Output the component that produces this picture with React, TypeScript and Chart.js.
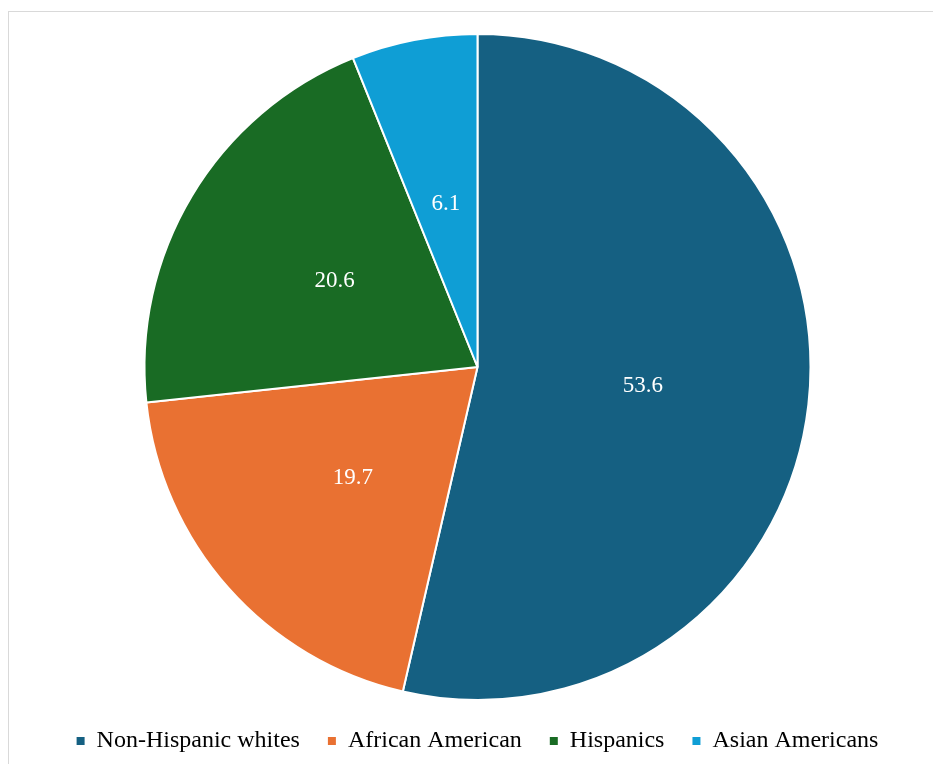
import React, { useEffect, useRef } from "react";
import { Chart, registerables } from "chart.js";

Chart.register(...registerables);

const categories = ["Non-Hispanic whites", "African American", "Hispanics", "Asian Americans"];
const values = [53.6, 19.7, 20.6, 6.1];
const sliceColors = ["#156082", "#E97132", "#196B24", "#0F9ED5"];

const FONT = "'Liberation Serif', 'Times New Roman', serif";

const labelPlugin = {
  id: "sliceLabels",
  afterDatasetsDraw(chart: any) {
    const ctx = chart.ctx;
    const meta = chart.getDatasetMeta(0);
    const data = chart.data.datasets[0].data;
    ctx.save();
    ctx.font = `23px ${FONT}`;
    ctx.fillStyle = "#ffffff";
    ctx.textAlign = "center";
    ctx.textBaseline = "middle";
    meta.data.forEach((arc: any, i: number) => {
      const p = arc.tooltipPosition();
      ctx.fillText(String(data[i]), p.x, p.y);
    });
    ctx.restore();
  },
};

export default function App() {
  const ref = useRef<HTMLCanvasElement | null>(null);

  useEffect(() => {
    if (!ref.current) return;
    const chart = new Chart(ref.current, {
      type: "pie",
      data: {
        labels: categories,
        datasets: [
          {
            data: values,
            backgroundColor: sliceColors,
            borderColor: "#ffffff",
            borderWidth: 2,
          },
        ],
      },
      options: {
        responsive: false,
        animation: false,
        layout: { padding: { top: 33, bottom: 1, left: 0, right: 0 } },
        plugins: {
          tooltip: { enabled: false },
          legend: {
            position: "bottom",
            labels: {
              boxWidth: 8,
              boxHeight: 8,
              padding: 28,
              color: "#000000",
              font: { family: FONT, size: 24 },
              generateLabels: (c: any) =>
                (Chart as any).overrides.pie.plugins.legend.labels
                  .generateLabels(c)
                  .map((l: any) => ({ ...l, strokeStyle: l.fillStyle, lineWidth: 0 })),
            },
          },
        },
      },
      plugins: [labelPlugin],
    });
    return () => chart.destroy();
  }, []);

  return (
    <div
      style={{
        position: "fixed",
        left: 0,
        top: 0,
        width: 933,
        height: 764,
        overflow: "hidden",
        background: "#ffffff",
      }}
    >
      <div
        style={{
          position: "absolute",
          left: 8,
          top: 11,
          width: 960,
          height: 800,
          border: "1px solid #d9d9d9",
        }}
      />
      <canvas
        ref={ref}
        width={933}
        height={764}
        style={{ position: "absolute", left: 11, top: 0, width: 933, height: 764 }}
      />
    </div>
  );
}
